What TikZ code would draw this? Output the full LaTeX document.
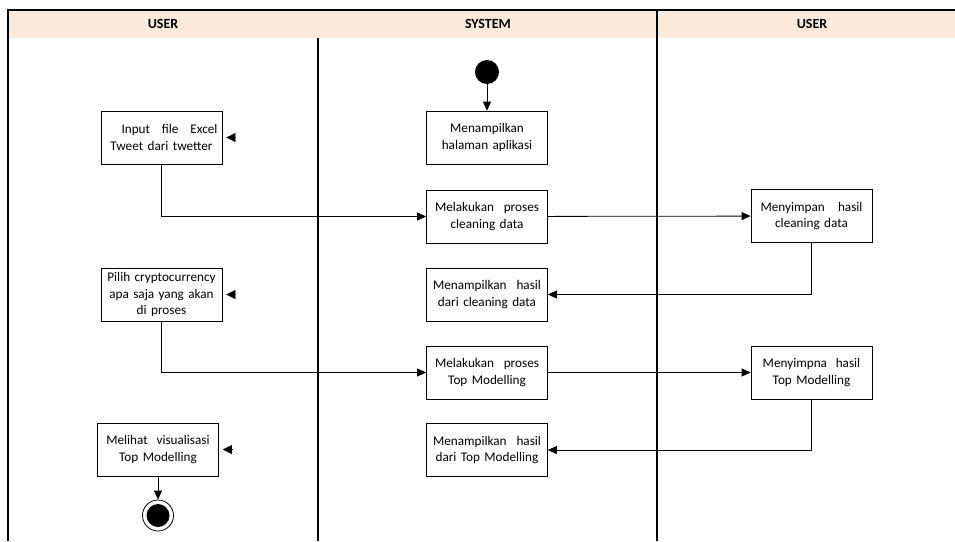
\documentclass[tikz,border=0pt]{standalone}
\usepackage{fontspec}
\setmainfont{Carlito}
\usetikzlibrary{arrows.meta}
\definecolor{headfill}{HTML}{FBE9DB}
\tikzset{
  act/.style={draw, line width=0.8pt, minimum width=121pt, minimum height=53pt,
    text width=112pt, inner sep=3pt, align=center,
    font=\fontsize{13.2}{16.5}\selectfont, execute at begin node={\hyphenpenalty=10000 }},
  flow/.style={line width=0.8pt, -{Triangle[length=9pt,width=8pt]}},
  tip/.style={-{Triangle[length=9pt,width=9pt]}, line width=0.1pt},
  lane/.style={line width=1.3pt},
  lanehead/.style={font=\bfseries\fontsize{14}{16}\selectfont},
  initstate/.style={circle, fill=black, minimum size=24pt, inner sep=0pt},
  endstate/.style={circle, draw, line width=0.8pt, minimum size=31pt, inner sep=0pt},
}
% spread one line over a fixed width
\newcommand{\jline}[2][108pt]{\hbox to #1{#2}}
\begin{document}
\begin{tikzpicture}[x=1pt,y=-1pt]
        \useasboundingbox (0,0) rectangle (955,541);
        % Draw lanes
        \fill[headfill] (8,10) rectangle (955,38);
        \draw[lane] (8,541) -- (8,10) -- (955,10);
        \draw[lane] (318,38) -- (318,541);
        \draw[lane] (657,10) -- (657,541);
        \node[lanehead] (hUser) at (163,24) {USER};
        \node[lanehead] (hSystem) at (488,24) {SYSTEM};
        \node[lanehead] (hUserB) at (812,24) {USER};
        % Start and end
        \node[initstate] (start) at (487,72) {};
        \node[endstate] (end) at (158,515.5) {};
        \fill (end.center) circle (11.5pt);
        % Left user
        \node[act] (input) at (161.5,137.5) {\hfill\jline[96pt]{Input\hfill file\hfill Excel}\\Tweet dari twetter};
        \node[act] (pilih) at (161.5,294.5) {Pilih cryptocurrency\\apa saja yang akan\\di proses};
        \node[act] (melihat) at (158,449.5) {Melihat\ \ visualisasi\\Top Modelling};
        % System
        \node[act] (halaman) at (487,137.5) {Menampilkan\\halaman aplikasi};
        \node[act] (clean) at (487,216.5) {\jline[104pt]{Melakukan\hfill proses}\\cleaning data};
        \node[act] (hasilClean) at (487,294.5) {\jline{Menampilkan\hfill hasil}\\dari cleaning data};
        \node[act] (topM) at (487,372.5) {\jline[104pt]{Melakukan\hfill proses}\\Top Modelling};
        \node[act] (hasilTop) at (487,450) {\jline{Menampilkan\hfill hasil}\\dari Top Modelling};
        % Right user
        \node[act] (simpan) at (811.5,216) {\jline[102pt]{Menyimpan\hfill hasil}\\cleaning data};
        \node[act] (simpanTop) at (811.5,372.5) {Menyimpna\ \ hasil\\Top Modelling};
        % Draw flow
        \draw[flow] (start) -- (halaman);
        \draw[flow] (input.south) |- (clean.west);
        \draw[flow] (clean) -- (simpan);
        \draw[flow] (simpan.south) |- (hasilClean.east);
        \draw[flow] (pilih.south) |- (topM.west);
        \draw[flow] (topM) -- (simpanTop);
        \draw[flow] (simpanTop.south) |- (hasilTop.east);
        \draw[flow] (melihat) -- (end);
        % Loose tips
        \foreach \n in {input, pilih, melihat} {
            \draw[tip] ([xshift=13pt]\n.east) -- ([xshift=4pt]\n.east);
        }
    \end{tikzpicture}
\end{document}
